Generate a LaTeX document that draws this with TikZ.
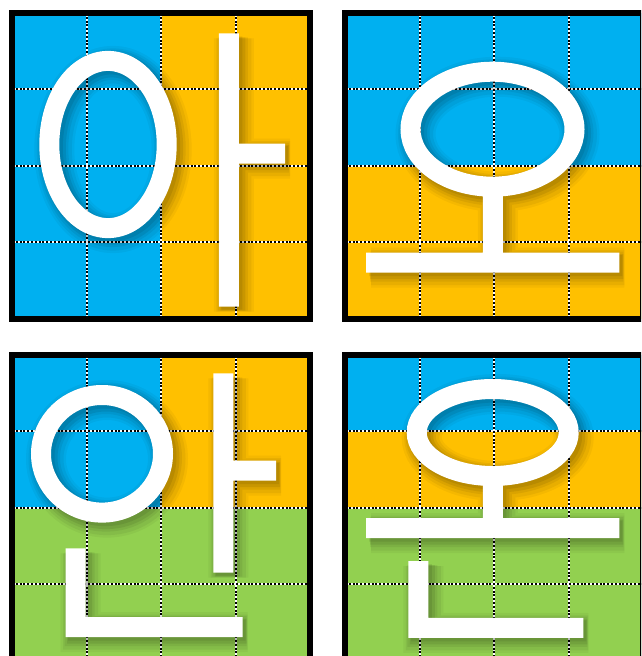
\documentclass[tikz,border=0pt]{standalone}
\usepackage{tikz}
\usepackage{xcolor}

\definecolor{skyblue}{HTML}{00B0F0}
\definecolor{amber}{HTML}{FFC000}
\definecolor{leaf}{HTML}{92D050}

\begin{document}
\begin{tikzpicture}[x=1pt, y=-1pt,
  panel/.style={draw=black, line width=6},
  gridline/.style={draw=black, line width=2, dash pattern=on 2pt off 1.8pt,
    preaction={draw=white, line width=2, solid}},
  jamo/.style={draw=white, line width=20, line join=miter,
    preaction={draw=black, opacity=0.04, line width=40, transform canvas={xshift=5pt, yshift=-5pt}},
    preaction={draw=black, opacity=0.05, line width=35, transform canvas={xshift=5pt, yshift=-5pt}},
    preaction={draw=black, opacity=0.06, line width=30, transform canvas={xshift=4pt, yshift=-4pt}},
    preaction={draw=black, opacity=0.08, line width=25, transform canvas={xshift=4pt, yshift=-4pt}},
    preaction={draw=black, opacity=0.08, line width=21, transform canvas={xshift=3pt, yshift=-3pt}}}]
  \useasboundingbox (0,0) rectangle (641,656);
  \clip (0,0) rectangle (641,656);

  % Cells
  \fill[skyblue] (12,13) rectangle (161,318.5);
  \fill[amber] (161,13) rectangle (310,318.5);
  \fill[skyblue] (345,13) rectangle (643,165.8);
  \fill[amber] (345,165.8) rectangle (643,318.5);
  \fill[skyblue] (12,355) rectangle (161,507.3);
  \fill[amber] (161,355) rectangle (310,507.3);
  \fill[leaf] (12,507.3) rectangle (310,661);
  \fill[skyblue] (345,355) rectangle (643,431.3);
  \fill[amber] (345,431.3) rectangle (643,507.3);
  \fill[leaf] (345,507.3) rectangle (643,661);

  % Grid
  \foreach \px/\py in {12/13, 345/13, 12/355, 345/355} {
    \foreach \i in {1,2,3} {
      \draw[gridline] (\px+\i*74.5, \py) -- (\px+\i*74.5, \py+305.5);
      \draw[gridline] (\px, \py+\i*76.4) -- (\px+298, \py+\i*76.4);
    }
  }

  % Letters
  \draw[jamo] (108,144.5) ellipse (58.7 and 83.6)
    (228.8,33.3) -- (228.8,306.7)
    (228.8,153.7) -- (285,153.7);
  \draw[jamo] (492.5,129.2) ellipse (82 and 57.5)
    (492.8,186) -- (492.8,262.5)
    (366,262.5) -- (619.3,262.5);
  \draw[jamo] (102,453.8) ellipse (61 and 58.8)
    (223.3,373.3) -- (223.3,572.7)
    (223.3,470.5) -- (276,470.5)
    (75.5,548.3) -- (75.5,627) -- (242.7,627);
  \draw[jamo] (492.7,432.5) ellipse (76 and 43.5)
    (492.8,475) -- (492.8,528)
    (366,528) -- (619.3,528)
    (418.3,561) -- (418.3,627.8) -- (583.3,627.8);

  % Frames
  \draw[panel] (12,13) rectangle (310,318.5);
  \draw[panel] (345,13) rectangle (643,318.5);
  \draw[panel] (12,355) rectangle (310,661);
  \draw[panel] (345,355) rectangle (643,661);
\end{tikzpicture}
\end{document}
